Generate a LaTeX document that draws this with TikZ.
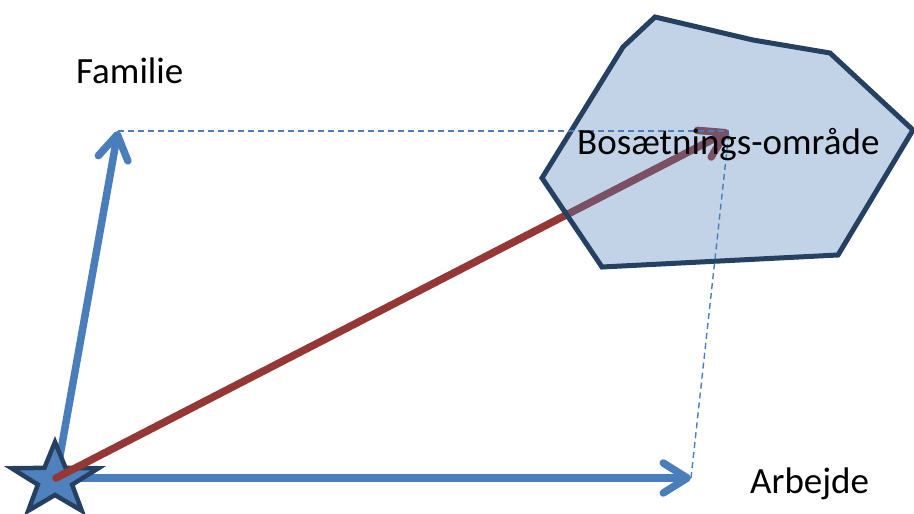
\documentclass[tikz,border=0pt]{standalone}
\usepackage{fontspec}
\setmainfont{Carlito}
\usetikzlibrary{arrows.meta}
\definecolor{axisblue}{HTML}{4A7EBB}
\definecolor{fillblue}{HTML}{4F81BD}
\definecolor{navy}{HTML}{254061}
\definecolor{darkred}{HTML}{953735}
\tikzset{
  vec/.style={line width=7.5pt, line cap=round, -{Straight Barb[length=24pt,width=30pt,round]}},
  axisvec/.style={vec, draw=axisblue},
  resvec/.style={vec, draw=darkred},
  proj/.style={draw=axisblue, line width=1.4pt, dash pattern=on 6pt off 4pt},
  area/.style={draw=navy, line width=5pt, fill=fillblue, fill opacity=0.35, line join=miter},
  lbl/.style={font=\fontsize{37}{40}\selectfont, anchor=base west, inner sep=0pt, text=black}
}
\begin{document}
\begin{tikzpicture}[x=1pt,y=-1pt]
\useasboundingbox (0,0) rectangle (914,514);
\coordinate (O) at (56,478);
\coordinate (F) at (118,131);
\coordinate (A) at (691,478);
\coordinate (B) at (729,131);
% axis vectors
\draw[axisvec] (O) -- (F);
\draw[axisvec] (O) -- (A);
% star
\begin{scope}[shift={(55,480)}, xscale=1.2, yscale=-1]
\draw[draw=navy, fill=fillblue, line width=4.5pt, line join=miter]
  (90:38) -- (126:15) -- (162:38) -- (198:15) -- (234:38) -- (270:15)
  -- (306:38) -- (342:15) -- (18:38) -- (54:15) -- cycle;
\end{scope}
% result vector (under the area)
\draw[resvec] (O) -- (B);
% area
\draw[area] (655,17) -- (623,47) -- (542,178) -- (602,267) -- (838,255) -- (913,130) -- (830,53) -- (753,40) -- cycle;
% projections
\draw[proj] (F) -- (B);
\draw[proj] (A) -- (B);
% labels
\node[lbl] (fam) at (76,83) {Familie};
\node[lbl] (bos) at (577,154) {Bosætnings-område};
\node[lbl] (arb) at (750,493) {Arbejde};
\end{tikzpicture}
\end{document}
